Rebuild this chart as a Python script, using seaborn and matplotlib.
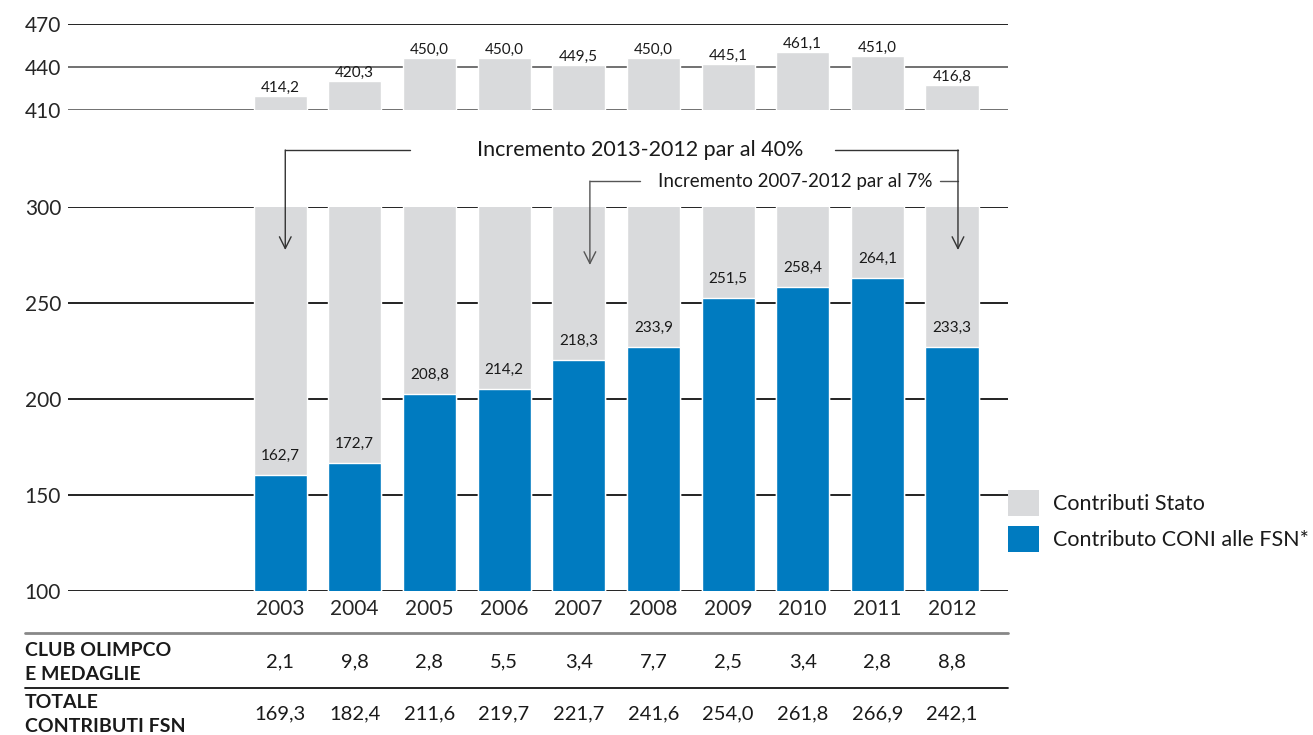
import matplotlib
matplotlib.use('Agg')
import matplotlib.pyplot as plt
import matplotlib.transforms as mtransforms
from matplotlib.patches import Patch
from matplotlib.lines import Line2D
import pandas as pd
import seaborn as sns

# Dati
years = ['2003', '2004', '2005', '2006', '2007', '2008', '2009', '2010', '2011', '2012']
stato_bar = [419.8, 430.2, 446.3, 446.3, 441.4, 446.3, 442.1, 450.5, 447.7, 427.4]
stato_labels = ['414,2', '420,3', '450,0', '450,0', '449,5', '450,0', '445,1', '461,1', '451,0', '416,8']
coni_bar = [160.4, 166.8, 202.6, 205.2, 220.3, 227.1, 252.6, 258.3, 263.0, 227.1]
coni_labels = ['162,7', '172,7', '208,8', '214,2', '218,3', '233,9', '251,5', '258,4', '264,1', '233,3']
club_medaglie = ['2,1', '9,8', '2,8', '5,5', '3,4', '7,7', '2,5', '3,4', '2,8', '8,8']
totale_fsn = ['169,3', '182,4', '211,6', '219,7', '221,7', '241,6', '254,0', '261,8', '266,9', '242,1']

GRAY = '#d9dadc'
BLUE = '#007bc0'

sns.set_theme(style='white')
plt.rcParams['font.family'] = ['Lato', 'DejaVu Sans']
plt.rcParams['text.color'] = '#1a1a1a'

df = pd.DataFrame({'Anno': years, 'Stato': stato_bar, 'CONI': coni_bar})

W, H = 1313, 735
fig = plt.figure(figsize=(W / 100, H / 100), dpi=100)

def px_box(x0, y0, x1, y1):
    return [x0 / W, 1 - y1 / H, (x1 - x0) / W, (y1 - y0) / H]

ax_top = fig.add_axes(px_box(68, 24, 1008, 110))
ax_bot = fig.add_axes(px_box(68, 207, 1008, 591))
XLIM = (-2.84, 9.75)

# pannello superiore (asse spezzato)
sns.barplot(data=df, x='Anno', y='Stato', color=GRAY, saturation=1, width=0.71, ax=ax_top, zorder=2)
ax_top.set_ylim(410, 470)
ax_top.set_xlim(*XLIM)
for v, c in zip([410, 440, 470], ['#666666', '#666666', '#111111']):
    ax_top.axhline(v, color=c, lw=1.3, zorder=1)
ax_top.set_yticks([410, 440, 470])
ax_top.set_xticks([])
for i, (h, lab) in enumerate(zip(stato_bar, stato_labels)):
    ax_top.annotate(lab, (i, h), xytext=(0, 3), textcoords='offset points',
                    ha='center', va='baseline', fontsize=11)

# pannello inferiore
sns.barplot(data=df, x='Anno', y='Stato', color=GRAY, saturation=1, width=0.71, ax=ax_bot, zorder=2)
sns.barplot(data=df, x='Anno', y='CONI', color=BLUE, saturation=1, width=0.71, ax=ax_bot, zorder=3)
ax_bot.set_ylim(100, 300)
ax_bot.set_xlim(*XLIM)
for v in [100, 150, 200, 250, 300]:
    ax_bot.axhline(v, color='#111111', lw=1.3, zorder=1)
ax_bot.set_yticks([100, 150, 200, 250, 300])
for i, (h, lab) in enumerate(zip(coni_bar, coni_labels)):
    ax_bot.annotate(lab, (i, h), xytext=(0, 11), textcoords='offset points',
                    ha='center', va='baseline', fontsize=11, zorder=4)

for ax in (ax_top, ax_bot):
    sns.despine(ax=ax, left=True, bottom=True)
    ax.set_xlabel('')
    ax.set_ylabel('')
    ax.tick_params(axis='y', length=0, pad=5, labelsize=15)
    ax.tick_params(axis='x', length=0, pad=6, labelsize=15)

# frecce di incremento
kw = dict(annotation_clip=False)
arrow1 = dict(arrowstyle='->,head_length=0.7,head_width=0.35', color='#333333', lw=1, shrinkA=0, shrinkB=0)
arrow2 = dict(arrowstyle='->,head_length=0.7,head_width=0.35', color='#555555', lw=1, shrinkA=0, shrinkB=0)
ax_bot.plot([0.07, 1.74], [329.7, 329.7], color='#333333', lw=1, clip_on=False)
ax_bot.plot([7.43, 9.08], [329.7, 329.7], color='#333333', lw=1, clip_on=False)
ax_bot.annotate('', xy=(0.07, 277.6), xytext=(0.07, 329.7), arrowprops=arrow1, **kw)
ax_bot.annotate('', xy=(9.08, 277.6), xytext=(9.08, 329.7), arrowprops=arrow1, **kw)
ax_bot.text(4.82, 329.7, 'Incremento 2013-2012 par al 40%', ha='center', va='center', fontsize=15.5)

ax_bot.plot([4.15, 4.82], [313.5, 313.5], color='#555555', lw=1, clip_on=False)
ax_bot.plot([8.84, 9.08], [313.5, 313.5], color='#555555', lw=1, clip_on=False)
ax_bot.annotate('', xy=(4.15, 269.8), xytext=(4.15, 313.5), arrowprops=arrow2, **kw)
ax_bot.text(6.90, 313.5, 'Incremento 2007-2012 par al 7%', ha='center', va='center', fontsize=13.5)

# legenda
handles = [Patch(facecolor=GRAY, edgecolor='none'), Patch(facecolor=BLUE, edgecolor='none')]
fig.legend(handles, ['Contributi Stato', 'Contributo CONI alle FSN*'],
           loc='upper left', bbox_to_anchor=(1008 / W, 1 - 490 / H), frameon=False,
           borderpad=0, borderaxespad=0, handlelength=1.45, handleheight=1.45,
           handletextpad=0.65, labelspacing=0.5, fontsize=15.5)

# tabella sotto il grafico
trans = mtransforms.blended_transform_factory(ax_bot.transData, fig.transFigure)
fig.add_artist(Line2D([25 / W, 1008 / W], [1 - 633 / H] * 2, color='#888888', lw=2))
fig.add_artist(Line2D([25 / W, 1008 / W], [1 - 688 / H] * 2, color='#111111', lw=1.3))
row_titles = [('CLUB OLIMPCO', 650), ('E MEDAGLIE', 674), ('TOTALE', 702), ('CONTRIBUTI FSN', 726)]
for txt, ypx in row_titles:
    fig.text(25 / W, 1 - ypx / H, txt, ha='left', va='center', fontsize=14, fontweight='bold')
for i, (a, b) in enumerate(zip(club_medaglie, totale_fsn)):
    ax_bot.text(i, 1 - 662 / H, a, transform=trans, ha='center', va='center', fontsize=14.5)
    ax_bot.text(i, 1 - 714 / H, b, transform=trans, ha='center', va='center', fontsize=14.5)

fig.savefig('out.png', dpi=100)
